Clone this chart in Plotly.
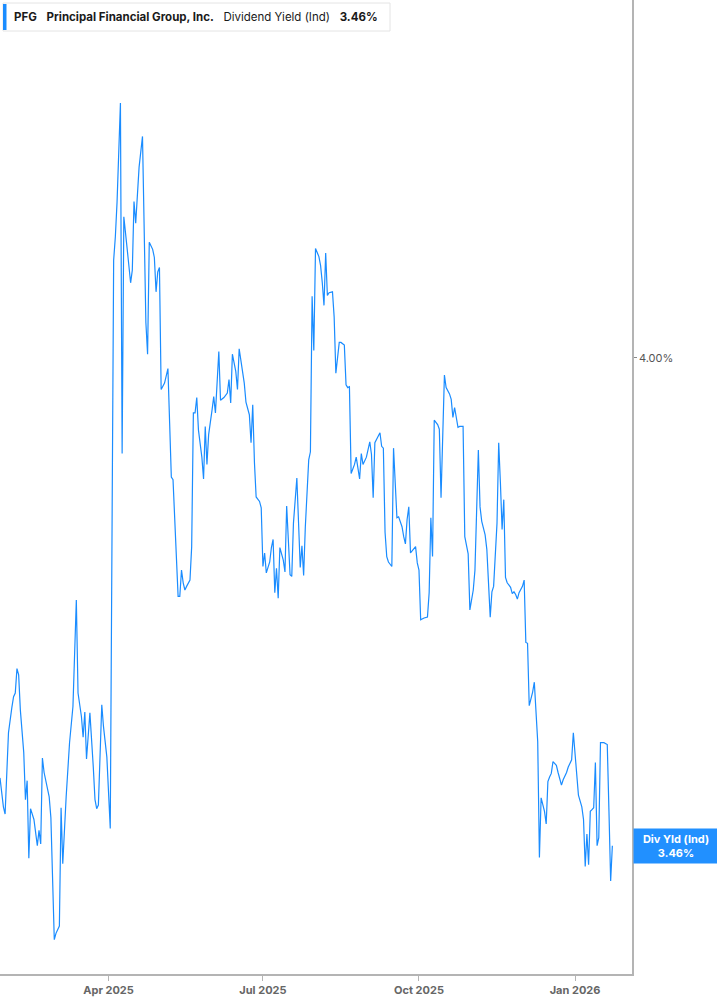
import pandas as pd
import plotly.graph_objects as go

ticker = 'PFG'
company = 'Principal Financial Group, Inc.'
metric = 'Dividend Yield (Ind)'
short_metric = 'Div Yld (Ind)'

# dates and dividend yield (%)
dates = [
    '2025-01-27', '2025-01-29', '2025-01-30', '2025-01-31', '2025-02-01', '2025-02-03', '2025-02-04', '2025-02-05',
    '2025-02-06', '2025-02-07', '2025-02-08', '2025-02-10', '2025-02-11', '2025-02-12', '2025-02-13', '2025-02-14',
    '2025-02-16', '2025-02-18', '2025-02-19', '2025-02-20', '2025-02-21', '2025-02-22', '2025-02-25', '2025-02-26',
    '2025-02-27', '2025-02-28', '2025-03-01', '2025-03-03', '2025-03-04', '2025-03-05', '2025-03-07', '2025-03-09',
    '2025-03-11', '2025-03-13', '2025-03-14', '2025-03-16', '2025-03-17', '2025-03-18', '2025-03-19', '2025-03-21',
    '2025-03-23', '2025-03-24', '2025-03-25', '2025-03-26', '2025-03-28', '2025-03-29', '2025-03-31', '2025-04-02',
    '2025-04-04', '2025-04-05', '2025-04-06', '2025-04-08', '2025-04-09', '2025-04-10', '2025-04-12', '2025-04-13',
    '2025-04-14', '2025-04-15', '2025-04-16', '2025-04-17', '2025-04-18', '2025-04-19', '2025-04-21', '2025-04-22',
    '2025-04-23', '2025-04-24', '2025-04-25', '2025-04-27', '2025-04-28', '2025-04-29', '2025-04-30', '2025-05-01',
    '2025-05-02', '2025-05-04', '2025-05-05', '2025-05-06', '2025-05-07', '2025-05-08', '2025-05-09', '2025-05-10',
    '2025-05-11', '2025-05-12', '2025-05-13', '2025-05-14', '2025-05-15', '2025-05-16', '2025-05-17', '2025-05-19',
    '2025-05-20', '2025-05-21', '2025-05-22', '2025-05-23', '2025-05-24', '2025-05-26', '2025-05-27', '2025-05-28',
    '2025-05-29', '2025-05-30', '2025-06-01', '2025-06-02', '2025-06-03', '2025-06-04', '2025-06-05', '2025-06-06',
    '2025-06-08', '2025-06-10', '2025-06-11', '2025-06-12', '2025-06-13', '2025-06-15', '2025-06-16', '2025-06-17',
    '2025-06-18', '2025-06-20', '2025-06-21', '2025-06-23', '2025-06-24', '2025-06-25', '2025-06-26', '2025-06-27',
    '2025-06-29', '2025-06-30', '2025-07-01', '2025-07-02', '2025-07-03', '2025-07-05', '2025-07-06', '2025-07-07',
    '2025-07-08', '2025-07-09', '2025-07-10', '2025-07-11', '2025-07-13', '2025-07-14', '2025-07-15', '2025-07-17',
    '2025-07-18', '2025-07-19', '2025-07-21', '2025-07-22', '2025-07-23', '2025-07-24', '2025-07-25', '2025-07-26',
    '2025-07-28', '2025-07-29', '2025-07-30', '2025-07-31', '2025-08-01', '2025-08-03', '2025-08-04', '2025-08-05',
    '2025-08-06', '2025-08-07', '2025-08-08', '2025-08-09', '2025-08-11', '2025-08-12', '2025-08-13', '2025-08-15',
    '2025-08-16', '2025-08-18', '2025-08-19', '2025-08-20', '2025-08-21', '2025-08-22', '2025-08-24', '2025-08-25',
    '2025-08-26', '2025-08-27', '2025-08-28', '2025-08-29', '2025-08-31', '2025-09-01', '2025-09-02', '2025-09-03',
    '2025-09-04', '2025-09-05', '2025-09-07', '2025-09-08', '2025-09-09', '2025-09-10', '2025-09-11', '2025-09-12',
    '2025-09-13', '2025-09-15', '2025-09-16', '2025-09-17', '2025-09-18', '2025-09-19', '2025-09-21', '2025-09-22',
    '2025-09-23', '2025-09-24', '2025-09-25', '2025-09-26', '2025-09-28', '2025-09-29', '2025-09-30', '2025-10-01',
    '2025-10-02', '2025-10-04', '2025-10-06', '2025-10-07', '2025-10-08', '2025-10-09', '2025-10-10', '2025-10-12',
    '2025-10-13', '2025-10-14', '2025-10-16', '2025-10-17', '2025-10-19', '2025-10-20', '2025-10-21', '2025-10-22',
    '2025-10-24', '2025-10-25', '2025-10-27', '2025-10-28', '2025-10-30', '2025-10-31', '2025-11-02', '2025-11-03',
    '2025-11-05', '2025-11-06', '2025-11-07', '2025-11-09', '2025-11-10', '2025-11-12', '2025-11-13', '2025-11-14',
    '2025-11-16', '2025-11-17', '2025-11-18', '2025-11-19', '2025-11-20', '2025-11-21', '2025-11-22', '2025-11-24',
    '2025-11-25', '2025-11-26', '2025-11-27', '2025-11-28', '2025-11-29', '2025-12-01', '2025-12-02', '2025-12-03',
    '2025-12-04', '2025-12-05', '2025-12-07', '2025-12-08', '2025-12-10', '2025-12-11', '2025-12-12', '2025-12-14',
    '2025-12-15', '2025-12-16', '2025-12-17', '2025-12-18', '2025-12-19', '2025-12-21', '2025-12-22', '2025-12-23',
    '2025-12-24', '2025-12-25', '2025-12-27', '2025-12-28', '2025-12-30', '2025-12-31', '2026-01-01', '2026-01-02',
    '2026-01-03', '2026-01-05', '2026-01-06', '2026-01-07', '2026-01-08', '2026-01-09', '2026-01-10', '2026-01-11',
    '2026-01-12', '2026-01-13', '2026-01-14', '2026-01-15', '2026-01-16', '2026-01-18', '2026-01-20', '2026-01-21',
    '2026-01-22', '2026-01-23',
]

div_yield = [
    3.535, 3.503, 3.495, 3.544, 3.585, 3.613, 3.625, 3.629, 3.656, 3.649, 3.610, 3.563, 3.511, 3.532, 3.446, 3.501,
    3.489, 3.460, 3.477, 3.462, 3.557, 3.541, 3.514, 3.491, 3.422, 3.356, 3.363, 3.371, 3.502, 3.440, 3.514, 3.574,
    3.614, 3.732, 3.629, 3.603, 3.580, 3.608, 3.556, 3.607, 3.547, 3.511, 3.501, 3.505, 3.616, 3.592, 3.558, 3.479,
    4.108, 4.134, 4.172, 4.282, 3.894, 4.156, 4.120, 4.097, 4.083, 4.097, 4.173, 4.149, 4.178, 4.211, 4.245, 4.127,
    4.039, 4.004, 4.128, 4.120, 4.111, 4.073, 4.095, 4.100, 3.965, 3.972, 3.979, 3.988, 3.928, 3.868, 3.865, 3.817,
    3.776, 3.736, 3.736, 3.765, 3.751, 3.743, 3.747, 3.754, 3.791, 3.939, 3.939, 3.956, 3.920, 3.890, 3.866, 3.924,
    3.882, 3.915, 3.942, 3.957, 3.939, 3.979, 4.007, 3.953, 3.956, 3.961, 3.976, 3.950, 4.004, 3.985, 3.965, 4.010,
    3.996, 3.972, 3.951, 3.937, 3.906, 3.948, 3.884, 3.846, 3.841, 3.834, 3.769, 3.784, 3.762, 3.774, 3.790, 3.799,
    3.740, 3.767, 3.734, 3.790, 3.776, 3.763, 3.836, 3.760, 3.758, 3.817, 3.867, 3.810, 3.768, 3.792, 3.759, 3.813,
    3.887, 3.896, 4.068, 4.008, 4.121, 4.112, 4.102, 4.083, 4.058, 4.116, 4.069, 4.072, 4.073, 4.045, 3.983, 4.017,
    4.017, 4.014, 3.970, 3.967, 3.968, 3.872, 3.882, 3.890, 3.878, 3.866, 3.894, 3.882, 3.890, 3.900, 3.907, 3.893,
    3.845, 3.906, 3.913, 3.917, 3.902, 3.900, 3.807, 3.780, 3.774, 3.769, 3.900, 3.854, 3.823, 3.824, 3.813, 3.802,
    3.794, 3.821, 3.835, 3.784, 3.788, 3.791, 3.773, 3.765, 3.710, 3.712, 3.713, 3.740, 3.823, 3.780, 3.931, 3.926,
    3.921, 3.845, 3.981, 3.967, 3.960, 3.954, 3.934, 3.945, 3.923, 3.924, 3.924, 3.802, 3.783, 3.721, 3.743, 3.765,
    3.898, 3.835, 3.819, 3.804, 3.788, 3.713, 3.741, 3.747, 3.817, 3.906, 3.862, 3.810, 3.843, 3.757, 3.751, 3.746,
    3.739, 3.741, 3.738, 3.733, 3.740, 3.747, 3.754, 3.685, 3.684, 3.615, 3.630, 3.641, 3.575, 3.447, 3.513, 3.498,
    3.484, 3.531, 3.536, 3.540, 3.553, 3.549, 3.541, 3.533, 3.527, 3.533, 3.541, 3.547, 3.555, 3.585, 3.563, 3.535,
    3.516, 3.503, 3.489, 3.437, 3.473, 3.439, 3.498, 3.500, 3.502, 3.552, 3.460, 3.469, 3.574, 3.574, 3.572, 3.498,
    3.421, 3.460,
]

x_tick_dates = ['2025-04-01', '2025-07-01', '2025-10-01', '2026-01-01']
x_tick_labels = ['Apr 2025', 'Jul 2025', 'Oct 2025', 'Jan 2026']
y_tick_values = [4.00]
y_tick_labels = ['4.00%']

BLUE = '#1a8cff'
AXIS_GREY = '#b4b4b4'


def main():
    df = pd.DataFrame({'date': pd.to_datetime(dates), 'yield': div_yield})
    last = df['yield'].iloc[-1]

    fig = go.Figure()
    fig.add_trace(go.Scatter(
        x=df['date'], y=df['yield'], mode='lines',
        line=dict(color=BLUE, width=1.2),
        hoverinfo='skip', showlegend=False,
    ))

    fig.update_layout(
        width=717, height=1005, autosize=False,
        margin=dict(l=0, r=85, t=0, b=31),
        paper_bgcolor='white', plot_bgcolor='white',
        font=dict(family='Inter, Roboto, sans-serif', color='#333'),
        xaxis=dict(
            range=['2025-01-27', '2026-02-03 14:00'],
            tickvals=x_tick_dates, ticktext=x_tick_labels,
            tickfont=dict(size=11, color='#666', weight='bold'),
            showgrid=False, zeroline=False,
            showline=True, linecolor=AXIS_GREY, linewidth=2,
            ticks='outside', tickcolor=AXIS_GREY, ticklen=5, tickwidth=1,
        ),
        yaxis=dict(
            side='right', range=[3.318, 4.396],
            tickvals=y_tick_values, ticktext=y_tick_labels,
            tickfont=dict(size=11, color='#555'),
            showgrid=False, zeroline=False,
            showline=True, linecolor=AXIS_GREY, linewidth=1.5,
            ticks='outside', tickcolor='#888', ticklen=3, tickwidth=1,
        ),
    )

    # header box in the top left corner
    fig.add_shape(type='rect', xref='paper', yref='paper',
                  xsizemode='pixel', ysizemode='pixel', xanchor=0, yanchor=1,
                  x0=3, x1=390, y0=-3, y1=-31,
                  fillcolor='white', line=dict(color='#e4e4e4', width=1), layer='above')
    fig.add_shape(type='rect', xref='paper', yref='paper',
                  xsizemode='pixel', ysizemode='pixel', xanchor=0, yanchor=1,
                  x0=3, x1=6.5, y0=-4, y1=-30,
                  fillcolor=BLUE, line=dict(width=0), layer='above')
    gap = '&nbsp;&nbsp;&nbsp;'
    header = f'<b>{ticker}</b>{gap}<b>{company}</b>{gap}{metric}{gap}<b>{last:.2f}%</b>'
    fig.add_annotation(text=header, xref='paper', yref='paper', x=0, y=1,
                       xanchor='left', yanchor='middle', xshift=12, yshift=-17,
                       showarrow=False, font=dict(size=11.5, color='#1a1a1a'))

    # last value tag on the right axis
    fig.add_annotation(text=f'<b>{short_metric}</b><br><b>{last:.2f}%</b>',
                       xref='paper', yref='y', x=1, y=last,
                       xanchor='left', yanchor='middle', xshift=1,
                       showarrow=False, bgcolor='#2190ff', borderpad=3, width=78,
                       align='center', font=dict(size=11, color='white'))

    # the page body has a default margin, drop it so the figure sits at 0,0
    fig.write_html('out.html', config={'displayModeBar': False},
                   post_script="document.body.style.margin='0';")


if __name__ == '__main__':
    main()
